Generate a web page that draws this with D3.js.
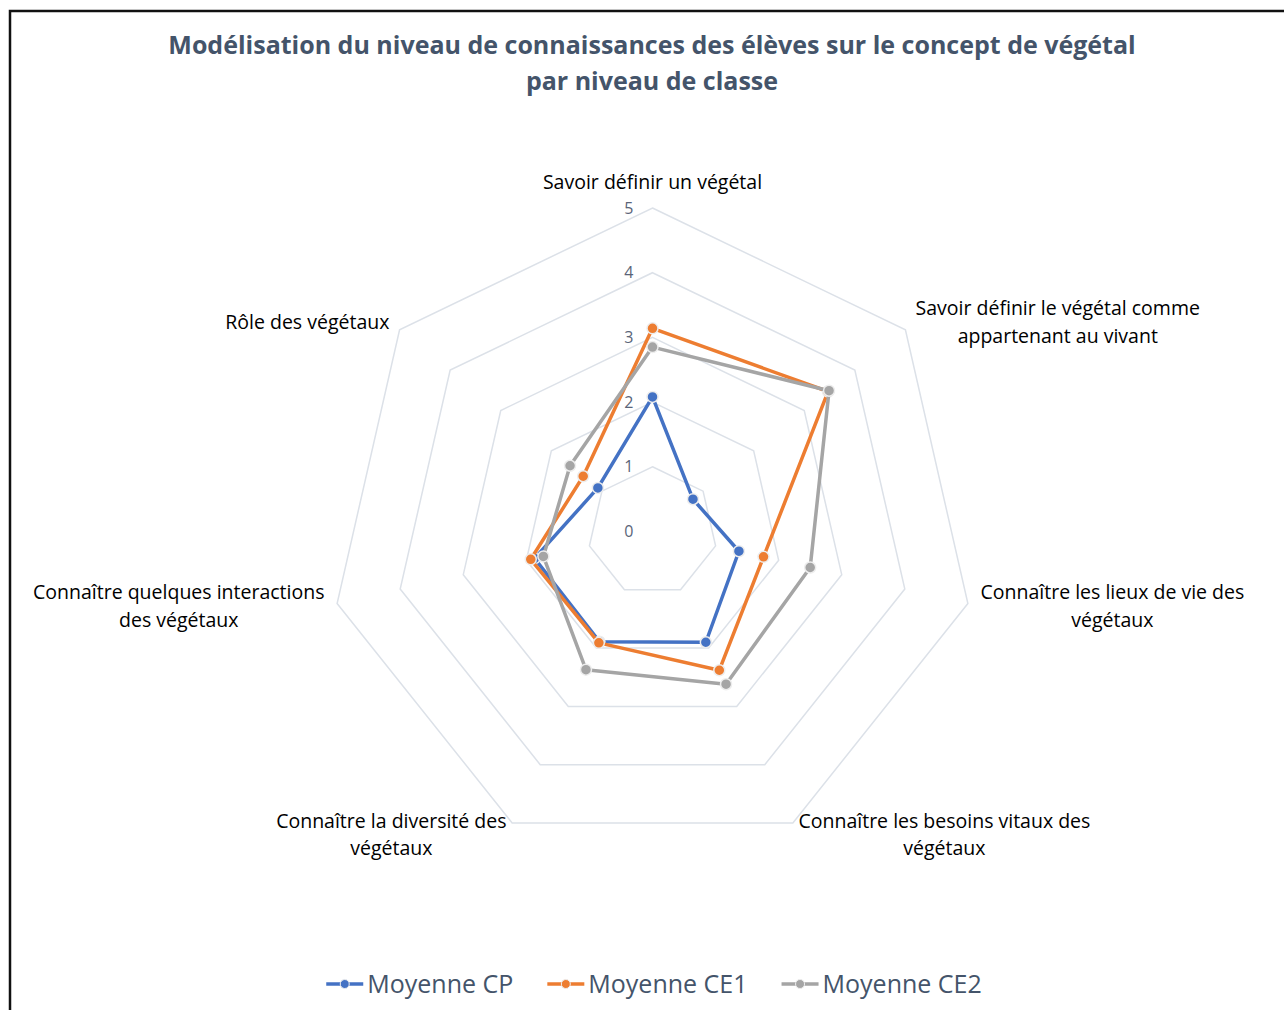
<!DOCTYPE html>
<html>
<head>
<meta charset="utf-8">
<script src="https://cdn.jsdelivr.net/npm/d3@7"></script>
<style>
  body { margin: 0; background: #fff; }
  svg { display: block; font-family: "Open Sans", sans-serif; }
</style>
</head>
<body>
<div id="chart"></div>
<script>
// radar chart: knowledge level about plants by class level

const titleLines = ["Modélisation du niveau de connaissances des élèves sur le concept de végétal",
                    "par niveau de classe"];

const categories = [
    ["Savoir définir un végétal"],
    ["Savoir définir le végétal comme", "appartenant au vivant"],
    ["Connaître les lieux de vie des", "végétaux"],
    ["Connaître les besoins vitaux des", "végétaux"],
    ["Connaître la diversité des", "végétaux"],
    ["Connaître quelques interactions", "des végétaux"],
    ["Rôle des végétaux"]
];

const seriesNames = ["Moyenne CP", "Moyenne CE1", "Moyenne CE2"];
const moyenneCP  = [2.08, 0.80, 1.37, 1.90, 1.89, 1.87, 1.08];
const moyenneCE1 = [3.14, 3.47, 1.76, 2.38, 1.91, 1.93, 1.37];
const moyenneCE2 = [2.85, 3.49, 2.50, 2.62, 2.37, 1.73, 1.63];
const tickValues = [0, 1, 2, 3, 4, 5];

const colors = ["#4472C4", "#ED7D31", "#A5A5A5"];
const allSeries = [moyenneCP, moyenneCE1, moyenneCE2];

let width = 1284,
    height = 1010,
    cx = 652.5,
    cy = 531.5,
    radius = 323.5;

const svg = d3.select("#chart")
    .append("svg")
    .attr("width", width)
    .attr("height", height);

svg.append("rect")
    .attr("width", width).attr("height", height)
    .attr("fill", "#fff");

// chart area border (only top and left visible in the picture)
svg.append("rect")
    .attr("x", 10).attr("y", 11)
    .attr("width", width + 20).attr("height", height + 20)
    .attr("fill", "none")
    .attr("stroke", "#111")
    .attr("stroke-width", 2.5);

// title
svg.append("text")
    .attr("text-anchor", "middle")
    .attr("fill", "#44546A")
    .style("font-weight", "bold")
    .style("font-size", "25px")
    .selectAll("tspan")
    .data(titleLines)
    .join("tspan")
    .attr("x", 652)
    .attr("y", (d, i) => 54 + i * 36)
    .text(d => d);

let r = d3.scaleLinear()
    .domain([0, 5])
    .range([0, radius]);

let angle = d3.scaleLinear()
    .domain([0, categories.length])
    .range([0, 2 * Math.PI]);

const g = svg.append("g")
    .attr("transform", `translate(${cx},${cy})`);

// grid polygons
const gridLine = d3.lineRadial()
    .angle((d, i) => angle(i))
    .radius(d => r(d))
    .curve(d3.curveLinearClosed);

g.append("g")
    .selectAll("path")
    .data(tickValues.filter(t => t > 0))
    .join("path")
    .attr("d", t => gridLine(categories.map(() => t)))
    .attr("fill", "none")
    .attr("stroke", "#DCE1E8")
    .attr("stroke-width", 1.5);

// tick labels
g.append("g")
    .selectAll("text")
    .data(tickValues)
    .join("text")
    .attr("x", -19)
    .attr("y", d => -r(d))
    .attr("dy", "0.35em")
    .attr("text-anchor", "end")
    .attr("fill", "#5A6478")
    .style("font-size", "16px")
    .text(d => d);

// category labels
const pos = (i, v) => {
    let a = angle(i);
    return [Math.sin(a) * v, -Math.cos(a) * v];
};

const lineH = 28;
categories.forEach((lines, i) => {
    let a = angle(i);
    let [px, py] = pos(i, radius + 13);
    let lab = g.append("text")
        .attr("text-anchor", "middle")
        .attr("fill", "#000")
        .style("font-size", "19.5px");
    lines.forEach((l, j) => {
        lab.append("tspan")
            .attr("x", 0)
            .attr("y", j * lineH)
            .attr("dy", "0.35em")
            .text(l);
    });
    let bb = lab.node().getBBox();
    let s = Math.sin(a), c = Math.cos(a);
    let tx = px, ty;
    if (s > 0.1) tx = px + bb.width / 2;
    else if (s < -0.1) tx = px - bb.width / 2;
    let blockH = (lines.length - 1) * lineH;
    if (c > 0.9) ty = py - 13 - blockH;
    else ty = py - blockH / 2;
    lab.attr("transform", `translate(${tx},${ty})`);
});

// series
const seriesLine = d3.lineRadial()
    .angle((d, i) => angle(i))
    .radius(d => r(d))
    .curve(d3.curveLinearClosed);

allSeries.forEach((vals, k) => {
    const sg = g.append("g");
    sg.append("path")
        .attr("d", seriesLine(vals))
        .attr("fill", "none")
        .attr("stroke", colors[k])
        .attr("stroke-width", 3.5)
        .attr("stroke-linejoin", "round");
    sg.selectAll("circle")
        .data(vals)
        .join("circle")
        .attr("cx", (d, i) => pos(i, r(d))[0])
        .attr("cy", (d, i) => pos(i, r(d))[1])
        .attr("r", 5.5)
        .attr("fill", colors[k])
        .attr("stroke", "#EDEDED")
        .attr("stroke-width", 1.5);
});

// legend
const legend = svg.append("g");
let lx = 0;
seriesNames.forEach((name, k) => {
    const it = legend.append("g").attr("transform", `translate(${lx},0)`);
    it.append("line")
        .attr("x1", 0).attr("x2", 37)
        .attr("stroke", colors[k])
        .attr("stroke-width", 3.5);
    it.append("circle")
        .attr("cx", 18.5).attr("r", 4.5)
        .attr("fill", colors[k])
        .attr("stroke", "#EDEDED")
        .attr("stroke-width", 1);
    const t = it.append("text")
        .attr("x", 41)
        .attr("dy", "0.35em")
        .attr("fill", "#44546A")
        .style("font-size", "25px")
        .text(name);
    lx += 41 + t.node().getComputedTextLength() + 34;
});
lx -= 34;
legend.attr("transform", `translate(${654 - lx / 2},984)`);
</script>
</body>
</html>
